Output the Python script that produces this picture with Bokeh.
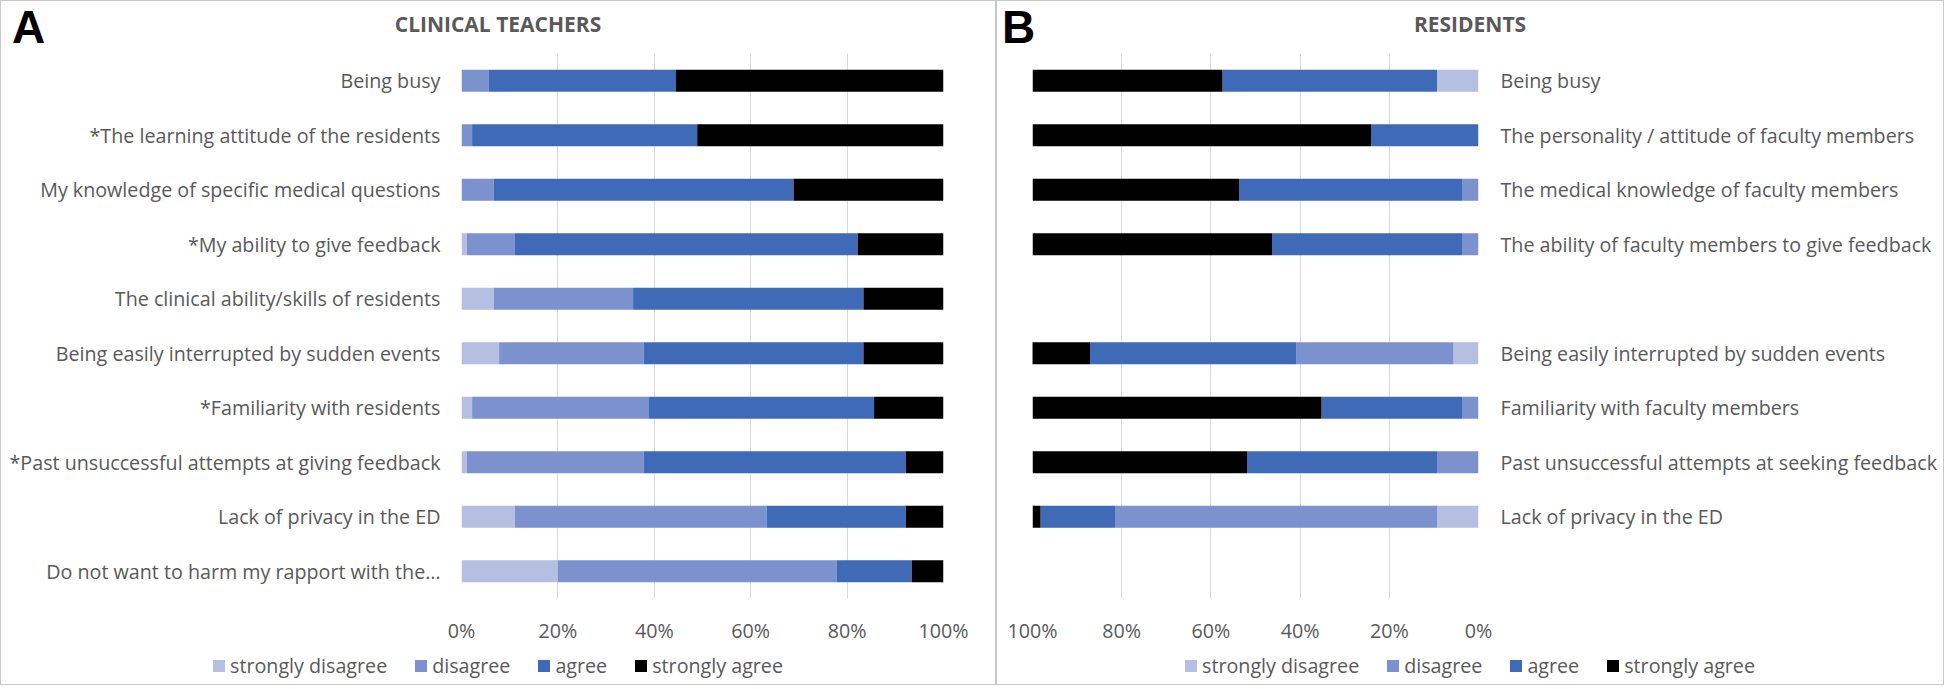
from bokeh.plotting import figure
from bokeh.layouts import row, column
from bokeh.models import (Range1d, FixedTicker, PrintfTickFormatter, ColumnDataSource, Div)
from bokeh.embed import file_html
from bokeh.resources import INLINE

# ---------------- data ----------------
levels = ["strongly disagree", "disagree", "agree", "strongly agree"]
level_colors = ["#B4BFE1", "#7B92CF", "#3F6AB7", "#000000"]

teacher_items = [
    "Being busy",
    "*The learning attitude of the residents",
    "My knowledge of specific medical questions",
    "*My ability to give feedback",
    "The clinical ability/skills of residents",
    "Being easily interrupted by sudden events",
    "*Familiarity with residents",
    "*Past unsuccessful attempts at giving feedback",
    "Lack of privacy in the ED",
    "Do not want to harm my rapport with the\u2026",
]
teacher_sd = [0.0, 0.0, 0.0, 1.1, 6.7, 7.8, 2.2, 1.1, 11.1, 20.0]
teacher_d = [5.6, 2.2, 6.7, 10.0, 28.9, 30.0, 36.7, 36.7, 52.2, 57.8]
teacher_a = [38.9, 46.7, 62.2, 71.1, 47.8, 45.6, 46.7, 54.4, 28.9, 15.6]
teacher_sa = [55.5, 51.1, 31.1, 17.8, 16.6, 16.6, 14.4, 7.8, 7.8, 6.6]

resident_items = [
    "Being busy",
    "The personality / attitude of faculty members",
    "The medical knowledge of faculty members",
    "The ability of faculty members to give feedback",
    None,
    "Being easily interrupted by sudden events",
    "Familiarity with faculty members",
    "Past unsuccessful attempts at seeking feedback",
    "Lack of privacy in the ED",
    None,
]
resident_sd = [9.3, 0.0, 0.0, 0.0, None, 5.6, 0.0, 0.0, 9.3, None]
resident_d = [0.0, 0.0, 3.7, 3.7, None, 35.2, 3.7, 9.3, 72.2, None]
resident_a = [48.1, 24.1, 50.0, 42.6, None, 46.3, 31.5, 42.6, 16.7, None]
resident_sa = [42.6, 75.9, 46.3, 53.7, None, 13.0, 64.8, 48.1, 1.8, None]

x_ticks = [0, 20, 40, 60, 80, 100]

# ---------------- style ----------------
FONT = "Open Sans"
GRAY = "#595959"
GRID = "#D9D9D9"
FS = "19.7px"
stack_keys = ["sd", "d", "a", "sa"]
border_css = {"border": "1px solid #C8C8C8", "background-color": "white"}
HEAD_H = 52
MAIN_H = 595
FOOT_H = 36


def make_source(items, sd, d, a, sa):
    keep = [i for i, it in enumerate(items) if it is not None]
    return ColumnDataSource(dict(
        y=keep,
        sd=[sd[i] for i in keep], d=[d[i] for i in keep],
        a=[a[i] for i in keep], sa=[sa[i] for i in keep],
    ))


def style(p, items):
    n = len(items)
    p.xaxis.ticker = FixedTicker(ticks=x_ticks)
    p.xaxis.formatter = PrintfTickFormatter(format="%d%%")
    p.yaxis.ticker = FixedTicker(ticks=list(range(n)))
    p.yaxis.major_label_overrides = {i: (it if it is not None else "") for i, it in enumerate(items)}
    for ax in (p.xaxis, p.yaxis):
        ax.axis_line_color = None
        ax.major_tick_line_color = None
        ax.minor_tick_line_color = None
        ax.major_tick_out = 0
        ax.major_tick_in = 0
        ax.major_label_text_font = FONT
        ax.major_label_text_font_size = FS
        ax.major_label_text_color = GRAY
    p.xaxis.major_label_standoff = 18
    p.yaxis.major_label_standoff = 21
    p.xgrid.grid_line_color = GRID
    p.xgrid.grid_line_width = 1
    p.ygrid.grid_line_color = None
    p.outline_line_color = None
    p.background_fill_color = "white"
    p.border_fill_color = "white"


def header(width, letter, letter_left, title):
    html = (
        f'<div style="position:relative;width:{width}px;height:{HEAD_H}px;">'
        f'<span style="position:absolute;left:{letter_left}px;top:3px;font-family:\'Liberation Sans\';'
        f'font-weight:bold;font-size:46px;line-height:1;color:#000000;">{letter}</span>'
        f'<div style="position:absolute;left:0px;top:13px;width:{width}px;text-align:center;'
        f'font-family:\'{FONT}\';font-weight:bold;font-size:21px;line-height:1;color:{GRAY};">{title}</div>'
        f'</div>'
    )
    return Div(text=html, width=width, height=HEAD_H, margin=0)


def footer(width):
    items = "".join(
        f'<span style="display:inline-flex;align-items:center;margin:0 14px;">'
        f'<span style="display:inline-block;width:12px;height:12px;background:{c};margin-right:5px;"></span>'
        f'{l}</span>'
        for l, c in zip(levels, level_colors)
    )
    html = (
        f'<div style="display:flex;justify-content:center;align-items:center;width:{width}px;'
        f'height:{FOOT_H}px;font-family:\'{FONT}\';font-size:{FS};color:{GRAY};white-space:nowrap;">'
        f'{items}</div>'
    )
    return Div(text=html, width=width, height=FOOT_H, margin=0)


n = len(teacher_items)

# ---------------- panel A ----------------
WA = 994
pA = figure(width=WA, height=MAIN_H, x_range=Range1d(0, 100), y_range=Range1d(n - 0.5, -0.5),
            output_backend="svg", toolbar_location=None,
            min_border_left=460, min_border_right=52, min_border_top=0, min_border_bottom=50)
srcA = make_source(teacher_items, teacher_sd, teacher_d, teacher_a, teacher_sa)
pA.hbar_stack(stack_keys, y="y", height=0.4, color=level_colors, line_color=None, source=srcA)
style(pA, teacher_items)
colA = column(header(WA, "A", 11, "CLINICAL TEACHERS"), pA, footer(WA), styles=border_css)

# ---------------- panel B ----------------
WB = 946
pB = figure(width=WB, height=MAIN_H, x_range=Range1d(100, 0), y_range=Range1d(n - 0.5, -0.5),
            output_backend="svg", toolbar_location=None, y_axis_location="right",
            min_border_left=35, min_border_right=465, min_border_top=0, min_border_bottom=50)
srcB = make_source(resident_items, resident_sd, resident_d, resident_a, resident_sa)
pB.hbar_stack(stack_keys, y="y", height=0.4, color=level_colors, line_color=None, source=srcB)
style(pB, resident_items)
pB.yaxis.major_label_standoff = 22
colB = column(header(WB, "B", 5, "RESIDENTS"), pB, footer(WB), styles=border_css)

layout = row(colA, colB)
open("out.html", "w").write(file_html(layout, INLINE))
